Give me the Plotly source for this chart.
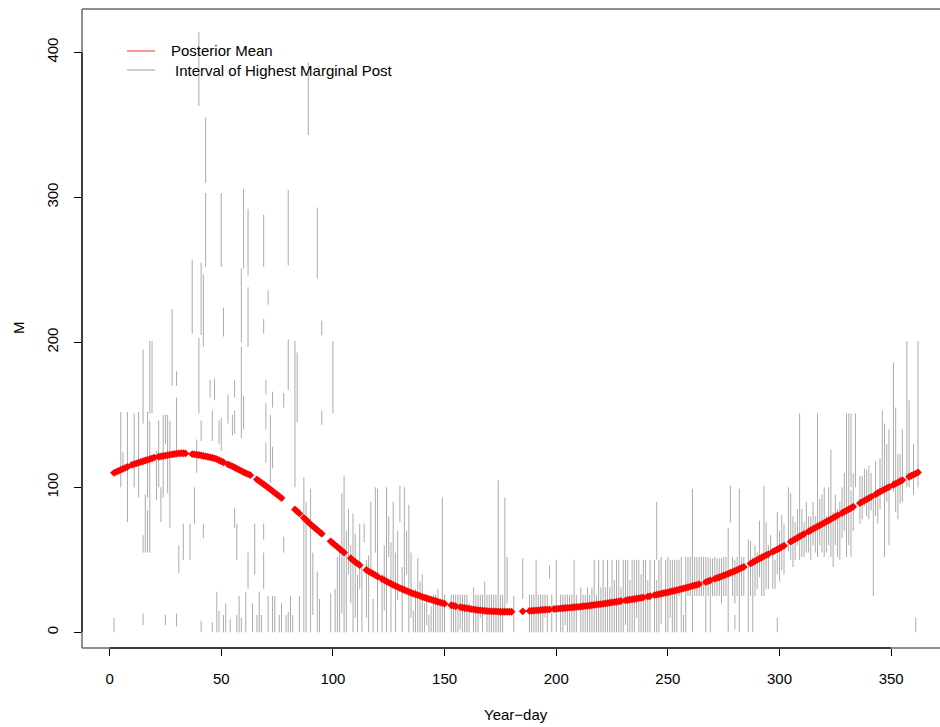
import plotly.graph_objects as go

# ---------------- data ----------------
year_day = list(range(2, 363))
posterior_mean = [
    110, 110.7, 111.4, 112.1, 112.8, 113.4, 114.1, None, 115.5, 116,
    116.5, 117, 117.5, 118, 118.5, 119, 119.5, 120, 120.5, None,
    121.1, 121.3, 121.6, 121.9, 122.2, 122.5, 122.7, 123, 123.3, 123.4,
    123.5, 123.5, 123.4, None, None, 122.9, 122.7, 122.5, 122.3, 122,
    121.7, 121.4, 121.1, 120.7, 120.4, 120, 119.4, 118.7, 118, 117.3,
    None, 115.9, 115.2, 114.5, 113.7, 112.9, 112.1, 111.3, 110.5, 109.8,
    109.1, 108.4, None, None, 105.4, 104.3, 103.2, 102.1, 101, 99.8,
    98.6, 97.4, 96.2, 95, 93.8, 92.6, None, None, None, None,
    None, 84.8, 83.4, 82, None, 79, 77.5, 76, 74.5, 73.2,
    71.9, 70.6, 69.3, 68, None, None, None, 62.8, 61.5, 60.2,
    58.9, 57.6, 56.3, 55, None, None, 51.1, 49.8, 48.5, 47.4,
    46.3, None, None, 43, 42.1, 41.2, 40.3, 39.4, 38.5, None,
    36.8, 36, 35.1, 34.3, 33.5, 32.8, 32, 31.3, 30.5, 29.9,
    29.2, 28.6, 27.9, 27.3, 26.7, 26.2, 25.6, 25.1, 24.5, 24,
    23.5, 23, 22.5, 22, 21.6, 21.1, 20.7, 20.2, 19.8, None,
    None, 18.7, 18.4, 18, None, 17.4, 17.1, 16.8, 16.5, 16.3,
    16, 15.8, 15.5, 15.3, 15.2, 15, 14.9, 14.7, 14.6, 14.5,
    14.4, 14.4, 14.3, 14.2, 14.2, 14.2, 14.2, 14.2, 14.2, None,
    None, None, None, 14.5, None, None, 14.8, 14.9, 15, 15.1,
    15.2, 15.4, 15.5, 15.6, 15.7, 15.8, None, 16.1, 16.2, 16.3,
    16.5, 16.6, 16.8, 16.9, 17, 17.2, 17.3, 17.5, 17.6, 17.8,
    18, 18.1, 18.3, 18.5, 18.7, 18.9, 19.1, 19.3, 19.5, 19.7,
    19.9, 20.2, 20.4, 20.6, 20.8, 21.1, 21.3, 21.6, None, 22,
    22.3, 22.5, 22.8, 23, 23.3, 23.6, 23.8, 24.1, None, 24.7,
    25, None, 25.7, 26, 26.3, 26.6, 27, 27.3, 27.6, 28,
    28.4, 28.7, 29.1, 29.5, 29.9, 30.3, 30.7, 31.1, 31.5, 32,
    32.4, 32.8, 33.3, None, None, 34.7, 35.3, 35.8, None, 36.9,
    37.5, 38, 38.6, 39.2, 39.8, 40.4, 41.1, 41.7, 42.3, 43,
    43.7, 44.4, 45.1, None, None, 47.4, 48.2, 49.1, 50, 50.8,
    51.6, 52.4, 53.2, 54, None, 55.6, 56.4, 57.2, 58, 58.9,
    59.8, None, None, 62.5, 63.4, 64.3, 65.2, 66.1, 67, 67.9,
    None, 69.6, 70.4, 71.3, 72.1, 73, 73.8, 74.7, 75.5, 76.4,
    77.2, 78.1, 78.9, 79.8, 80.6, None, 82.3, 83.2, 84, 84.9,
    85.7, 86.6, None, None, 89.1, 90, 90.8, 91.7, 92.5, 93.4,
    None, 95.2, 96.1, 97, 97.8, 98.6, 99.4, 100.2, None, 101.8,
    102.6, 103.4, 104.2, 105, None, None, 107.3, 108, 108.8, 109.5,
    110.3,
]

# intervals of highest marginal posterior (one vertical segment each)
seg_day = [
    2, 5, 6, 8, 11, 13, 15, 15, 15, 16,
    17, 17, 18, 18, 19, 21, 22, 23, 24, 25,
    25, 26, 27, 28, 30, 30, 30, 31, 33, 36,
    37, 38, 39, 40, 40, 41, 41, 41, 42, 42,
    43, 43, 45, 46, 46, 47, 48, 49, 49, 50,
    50,
    51, 51, 52, 53, 54, 55, 56, 56, 56, 57,
    57, 58, 59, 59, 59, 60, 60, 61, 62, 62,
    62, 64, 65, 66, 67, 68, 69, 69, 69, 69,
    70, 70, 70, 71, 71, 72, 73, 73, 73, 74,
    76, 77, 78, 78, 79, 80, 80, 80, 81, 82,
    83, 84, 85, 87, 88, 89, 90, 91, 93, 93,
    94, 95, 95, 99, 100,
    102, 104, 105, 106, 107, 109, 110, 113, 114, 116,
    118, 119, 120, 122, 124, 125, 126, 128, 129, 130,
    132, 134, 136, 138, 139, 141, 142, 143, 145, 146,
    149, 101, 103, 108, 111, 112, 115, 117, 123, 127,
    131, 133, 135, 137, 140, 144, 147, 148, 150,
    153, 154, 155, 156, 157, 158, 159, 160, 161, 163,
    164, 165, 166, 167, 168, 169, 170, 171, 172, 173,
    174, 175, 176, 177, 178, 181, 185, 188, 189, 190,
    191, 192, 193, 194, 195, 196, 197, 198, 200, 202,
    203, 204, 205, 206, 207, 208, 209, 211, 212, 213,
    214, 215, 216, 217, 218, 219, 220, 221, 222, 223,
    224, 225, 226, 227, 228, 229, 230, 231, 232, 233,
    234, 235, 236, 237, 238, 239, 240, 241, 242, 244,
    245, 245, 246, 247, 249, 250, 251, 252, 253, 254,
    255,
    256, 257, 258, 260, 261, 262, 263, 264, 269, 270,
    272, 273, 274, 277, 278, 280, 280, 282, 286, 287,
    288, 291, 293, 294, 296, 298, 299, 299, 301, 304,
    305, 307, 308, 309, 309, 311, 312, 314, 317, 317,
    320, 321, 323, 324, 325, 326, 327, 330, 331, 332,
    332, 334, 337, 338, 341, 342, 344, 346, 347, 351,
    352, 353, 354, 357, 361, 362, 283, 284, 289, 290,
    292, 295, 297, 300, 302, 306, 310, 313, 315, 316,
    318, 319, 322, 328, 329, 333, 336, 339, 340, 343,
    345, 348, 349, 355, 358, 360, 259, 265, 266, 267,
    268, 271, 275, 276, 279, 281,
]
seg_low = [
    0, 100, 112, 76, 100, 93, 144, 55, 5, 55,
    93, 55, 151, 55, 151, 91, 100, 76, 93, 130,
    5, 96, 72, 170, 170, 124, 4, 41, 50, 50,
    206, 75, 110, 363, 151, 205, 132, 0, 197, 65,
    310, 252, 162, 132, 0, 160, 0, 130, 0, 252,
    125,
    204, 0, 0, 144, 0, 136, 162, 137, 72, 50,
    0, 0, 200, 134, 0, 251, 140, 0, 246, 197,
    30, 0, 40, 0, 0, 0, 252, 206, 64, 30,
    164, 140, 117, 226, 0, 103, 155, 113, 0, 0,
    0, 0, 55, 155, 0, 253, 167, 0, 0, 0,
    100, 145, 0, 0, 0, 343, 0, 12, 244, 0,
    0, 205, 143, 0, 151,
    0, 13, 0, 0, 40, 0, 10, 0, 62, 0,
    0, 55, 0, 0, 0, 52, 0, 0, 22, 76,
    27, 0, 0, 0, 0, 0, 5, 0, 0, 0,
    0, 0, 0, 20, 0, 30, 10, 40, 15, 30,
    0, 40, 10, 0, 0, 0, 0, 0, 0,
    0, 0, 0, 0, 2, 0, 0, 0, 0, 0,
    0, 0, 10, 0, 15, 0, 0, 0, 0, 0,
    0, 0, 0, 15, 20, 0, 23, 0, 0, 0,
    0, 0, 0, 0, 10, 0, 37, 0, 0, 0,
    0, 5, 0, 0, 0, 0, 0, 0, 0, 0,
    0, 0, 0, 0, 0, 0, 0, 0, 0, 0,
    0, 0, 0, 0, 0, 0, 0, 5, 0, 0,
    0, 0, 10, 0, 0, 0, 0, 0, 0, 0,
    50, 0, 0, 6, 0, 0, 10, 0, 0, 0,
    25,
    0, 0, 0, 25, 0, 25, 25, 25, 0, 25,
    25, 25, 20, 0, 76, 2, 20, 0, 0, 25,
    0, 38, 25, 30, 55, 30, 0, 40, 43, 56,
    50, 50, 60, 100, 50, 52, 55, 50, 100, 52,
    52, 55, 52, 45, 60, 52, 50, 52, 60, 100,
    52, 100, 78, 87, 84, 25, 75, 100, 52, 97,
    83, 78, 89, 100, 0, 100, 25, 25, 25, 30,
    25, 30, 30, 35, 40, 45, 52, 55, 60, 55,
    60, 55, 60, 65, 70, 70, 75, 80, 78, 80,
    85, 90, 60, 90, 100, 95, 25, 25, 25, 0,
    25, 25, 25, 25, 25, 25,
]
seg_high = [
    10, 152, 124, 152, 151, 152, 195, 67, 13, 95,
    152, 84, 201, 146, 201, 125, 146, 100, 150, 150,
    12, 150, 146, 223, 180, 162, 13, 60, 75, 75,
    257, 100, 133, 414, 203, 255, 146, 8, 247, 75,
    355, 303, 174, 153, 7, 175, 28, 146, 15, 303,
    148,
    224, 12, 20, 164, 9, 150, 174, 153, 86, 75,
    12, 25, 251, 197, 10, 306, 163, 28, 292, 238,
    55, 20, 75, 12, 28, 12, 288, 216, 75, 55,
    174, 158, 131, 236, 25, 150, 166, 128, 25, 25,
    12, 20, 66, 165, 12, 305, 202, 14, 25, 12,
    201, 193, 25, 107, 90, 393, 99, 55, 293, 42,
    23, 215, 153, 27, 201,
    52, 96, 108, 70, 85, 82, 68, 45, 75, 53,
    23, 100, 99, 40, 100, 80, 62, 55, 70, 101,
    100, 88, 15, 51, 35, 20, 25, 12, 26, 26,
    93, 30, 60, 60, 40, 75, 50, 90, 60, 90,
    45, 70, 55, 30, 40, 18, 30, 20, 26,
    26, 26, 26, 26, 26, 26, 26, 26, 20, 31,
    26, 26, 26, 26, 35, 26, 26, 26, 26, 26,
    105, 26, 26, 93, 52, 25, 51, 26, 26, 26,
    50, 26, 26, 26, 26, 26, 46, 26, 50, 26,
    26, 26, 26, 26, 26, 50, 26, 31, 26, 26,
    31, 26, 31, 50, 26, 50, 31, 50, 31, 50,
    31, 50, 36, 50, 50, 31, 50, 50, 50, 36,
    50, 50, 50, 50, 40, 50, 50, 36, 50, 50,
    90, 36, 50, 52, 50, 52, 50, 50, 50, 50,
    50,
    52, 12, 52, 52, 99, 52, 52, 52, 51, 51,
    51, 51, 51, 72, 101, 12, 50, 99, 64, 63,
    52, 77, 101, 76, 67, 50, 10, 83, 81, 100,
    96, 76, 85, 151, 100, 76, 90, 80, 151, 100,
    100, 80, 126, 83, 95, 85, 90, 151, 151, 151,
    98, 151, 108, 113, 110, 96, 95, 153, 144, 186,
    155, 123, 123, 201, 10, 201, 52, 52, 60, 55,
    52, 60, 55, 70, 75, 80, 85, 80, 90, 80,
    92, 95, 100, 100, 110, 110, 108, 112, 115, 118,
    120, 130, 140, 140, 160, 130, 52, 52, 52, 52,
    52, 52, 52, 52, 52, 52,
]

x_ticks = [0, 50, 100, 150, 200, 250, 300, 350]
y_ticks = [0, 100, 200, 300, 400]
legend_labels = ["Posterior Mean", "Interval of Highest Marginal Post"]
x_title = "Year\u2212day"
y_title = "M"

# ---------------- figure ----------------
W, H = 940, 727
ML, MT, MB = 82, 9, 79
PW, PH = W - ML, H - MT - MB


def px(x):
    return (x - ML) / PW


def py(y):
    return (H - MB - y) / PH


seg_x, seg_y = [], []
for d, lo, hi in zip(seg_day, seg_low, seg_high):
    seg_x += [d, d, None]
    seg_y += [lo, hi, None]

fig = go.Figure()
fig.add_trace(go.Scatter(x=seg_x, y=seg_y, mode="lines",
                         line=dict(color="#ABABAB", width=1),
                         hoverinfo="skip", showlegend=False))
fig.add_trace(go.Scatter(x=year_day, y=posterior_mean, mode="markers",
                         marker=dict(symbol="diamond", size=6, color="#FF0000",
                                     line=dict(width=0)),
                         showlegend=False))

font_family = "Liberation Sans, Arial, Helvetica, sans-serif"
fig.update_layout(
    width=W, height=H,
    margin=dict(l=ML, r=0, t=MT, b=MB, pad=0),
    paper_bgcolor="white", plot_bgcolor="white",
    font=dict(family=font_family, size=15, color="black"),
    showlegend=False,
)
fig.update_xaxes(range=[-12.35, 371.85], tickvals=x_ticks, ticks="outside",
                 ticklen=7, tickwidth=1, tickcolor="black", showgrid=False,
                 zeroline=False, showline=False, ticklabelstandoff=10,
                 tickfont=dict(size=15))
fig.update_yaxes(range=[-10.8, 429.9], tickvals=y_ticks, ticks="outside",
                 ticklen=7, tickwidth=1, tickcolor="black", showgrid=False,
                 zeroline=False, showline=False, tickangle=-90,
                 ticklabelstandoff=10, tickfont=dict(size=15))

box = "#6A6A6A"
shapes = [
    dict(type="line", xref="paper", yref="paper", x0=0, x1=1, y0=1, y1=1,
         line=dict(color=box, width=1.5)),
    dict(type="line", xref="paper", yref="paper", x0=0, x1=0, y0=0, y1=1,
         line=dict(color=box, width=1.5)),
    dict(type="line", xref="paper", yref="paper", x0=0, x1=1, y0=0, y1=0,
         line=dict(color=box, width=1.5)),
    dict(type="line", xref="x", yref="paper", x0=x_ticks[0], x1=x_ticks[-1],
         y0=0, y1=0, line=dict(color="#222222", width=1.5)),
    dict(type="line", xref="paper", yref="y", x0=0, x1=0,
         y0=y_ticks[0], y1=y_ticks[-1], line=dict(color="#222222", width=1.5)),
    dict(type="line", xref="paper", yref="paper", x0=px(127), x1=px(155),
         y0=py(51), y1=py(51), line=dict(color="#FF5050", width=1.2)),
    dict(type="line", xref="paper", yref="paper", x0=px(127), x1=px(155),
         y0=py(70), y1=py(70), line=dict(color="#B0B0B0", width=1.2)),
]
fig.update_layout(shapes=shapes)

annotations = [
    dict(text=legend_labels[0], x=px(169), y=py(51), xanchor="left",
         yanchor="middle"),
    dict(text=legend_labels[1], x=px(173), y=py(70), xanchor="left",
         yanchor="middle"),
    dict(text=x_title, x=px(516), y=py(714), xanchor="center",
         yanchor="middle"),
    dict(text=y_title, x=px(18), y=py(328), xanchor="center",
         yanchor="middle", textangle=-90),
]
for a in annotations:
    a.update(xref="paper", yref="paper", showarrow=False,
             font=dict(family=font_family, size=15, color="black"))
fig.update_layout(annotations=annotations)

fig.write_html("out.html")
